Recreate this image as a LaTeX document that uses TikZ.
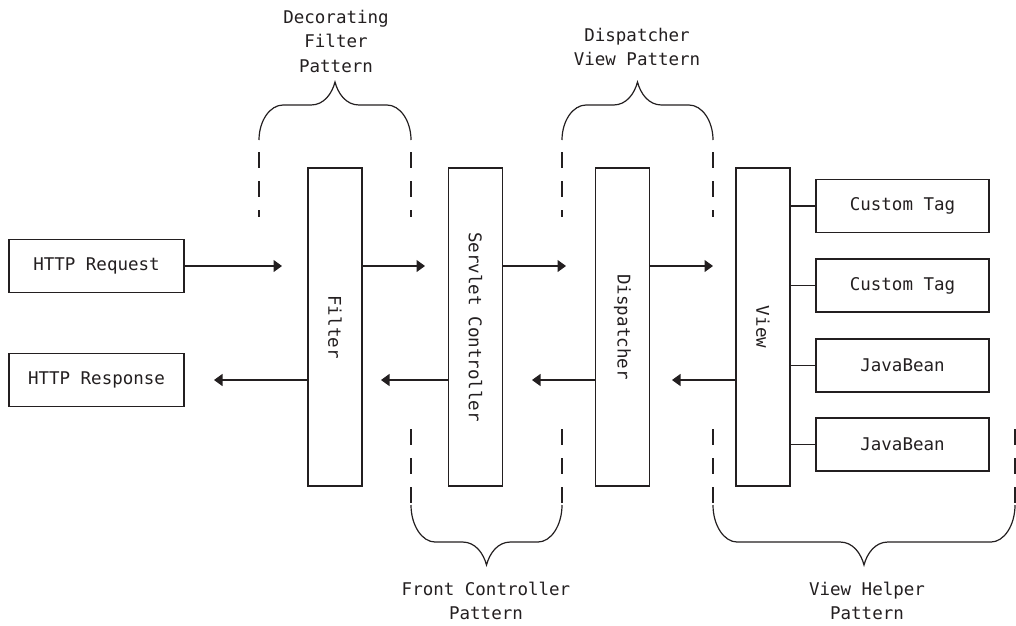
\documentclass[tikz,border=0pt]{standalone}
\usepackage{fontspec}
\newfontfamily\codefont{DejaVu Sans Mono}
\usetikzlibrary{arrows.meta}
\definecolor{ink}{HTML}{231F20}

% curly brace between x=#1 and x=#2: ends at y=#3, flat part at y=#4, tip at y=#5
\newcommand\drawbrace[5]{%
  \pgfmathsetmacro\bxm{(#1+#2)/2}%
  \pgfmathsetmacro\bya{#3+0.55*(#4-#3)}%
  \pgfmathsetmacro\byb{#4+0.5*(#5-#4)}%
  \draw[brace] (#1,#3) .. controls (#1,\bya) and ({#1+11},#4) .. ({#1+24},#4)
    -- ({\bxm-24},#4) .. controls ({\bxm-11},#4) and ({\bxm-3},\byb) .. (\bxm,#5)
    .. controls ({\bxm+3},\byb) and ({\bxm+11},#4) .. ({\bxm+24},#4)
    -- ({#2-24},#4) .. controls ({#2-11},#4) and (#2,\bya) .. (#2,#3);
}

\tikzset{
  every node/.style={font=\codefont\fontsize{17.5}{24.5}\selectfont, text=ink},
  box/.style={draw=ink, line width=1.2pt, inner sep=0pt,
              minimum width=175pt, minimum height=53pt},
  tagbox/.style={box, minimum width=173pt},
  tallbox/.style={draw=ink, line width=1.2pt, inner sep=0pt,
              minimum width=54pt, minimum height=318pt},
  lbl/.style={align=center, inner sep=0pt},
  arr/.style={draw=ink, line width=1.2pt, -{Triangle[length=8.5pt,width=12pt]}},
  link/.style={draw=ink, line width=1.2pt},
  brace/.style={draw=ink, line width=1.2pt},
  guide/.style={draw=ink, line width=1.2pt, dash pattern=on 16pt off 13pt},
}

\begin{document}
\begin{tikzpicture}[x=1pt, y=-1pt]
\useasboundingbox (0,0) rectangle (1016,625);

% request / response boxes
\node[box] (req) at (96.5,266) {HTTP Request};
\node[box] (resp) at (96.5,380) {HTTP Response};

% processing chain
\node[tallbox, label={[rotate=-90]center:Filter}] (filter) at (335,327) {};
\node[tallbox, label={[rotate=-90]center:Servlet Controller}] (servlet) at (475.5,327) {};
\node[tallbox, label={[rotate=-90]center:Dispatcher}] (disp) at (622.5,327) {};
\node[tallbox, label={[rotate=-90]center:View}] (view) at (763,327) {};

% helpers
\node[tagbox] (tag1) at (902.5,206) {Custom Tag};
\node[tagbox] (tag2) at (902.5,285.5) {Custom Tag};
\node[tagbox] (bean1) at (902.5,365.5) {JavaBean};
\node[tagbox] (bean2) at (902.5,444.5) {JavaBean};

\foreach \h in {tag1,tag2,bean1,bean2}
  \draw[link] (view.east |- \h.west) -- (\h.west);

% forward flow
\coordinate (f1) at (282,266);
\coordinate (f2) at (425,266);
\coordinate (f3) at (566,266);
\coordinate (f4) at (713,266);
\draw[arr] (req.east) -- (f1);
\draw[arr] (filter.east |- f2) -- (f2);
\draw[arr] (servlet.east |- f3) -- (f3);
\draw[arr] (disp.east |- f4) -- (f4);

% return flow
\coordinate (b1) at (214,380);
\coordinate (b2) at (381,380);
\coordinate (b3) at (532,380);
\coordinate (b4) at (672,380);
\draw[arr] (filter.west |- b1) -- (b1);
\draw[arr] (servlet.west |- b2) -- (b2);
\draw[arr] (disp.west |- b3) -- (b3);
\draw[arr] (view.west |- b4) -- (b4);

% pattern braces, top
\foreach \x in {259,411,562,713}
  \draw[guide] (\x,152) -- (\x,217);
\drawbrace{259}{411}{140}{105}{82}
\drawbrace{562}{713}{140}{105}{82}

% pattern braces, bottom
\foreach \x in {411,562,713,1015}
  \draw[guide] (\x,429) -- (\x,505);
\drawbrace{411}{562}{505}{542}{565}
\drawbrace{713}{1015}{505}{542}{565}

% pattern names
\node[lbl] (decolbl) at (336,41) {Decorating\\Filter\\Pattern};
\node[lbl] (displbl) at (637,47) {Dispatcher\\View Pattern};
\node[lbl] (fclbl) at (486,601) {Front Controller\\Pattern};
\node[lbl] (vhlbl) at (867,601) {View Helper\\Pattern};
\end{tikzpicture}
\end{document}
